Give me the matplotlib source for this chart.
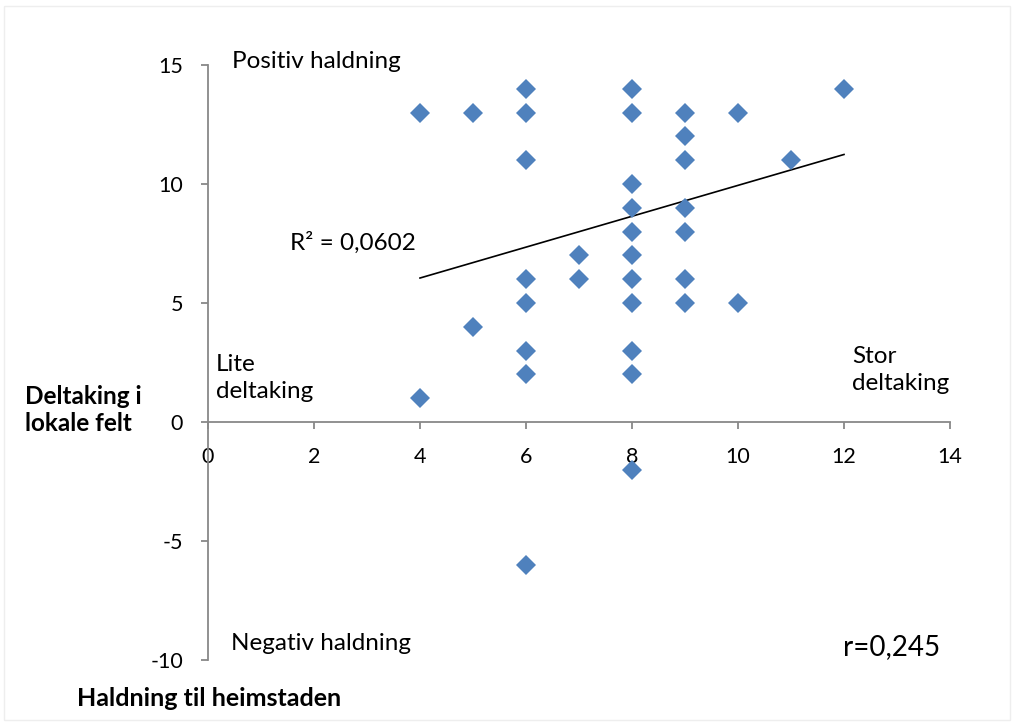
import numpy as np
import matplotlib.pyplot as plt

# Haldning til heimstaden (x) og deltaking i lokale felt (y)
# (dei siste seks punkta ligg oppå andre punkt i diagrammet)
haldning = [4, 5, 6, 6, 8, 8, 9, 10, 12, 9, 6, 9, 11, 8, 8, 9, 8, 9,
            7, 8, 6, 7, 8, 9, 6, 8, 9, 10, 5, 6, 8, 6, 8, 4, 8, 6,
            6, 6, 8, 8, 8, 12]
deltaking = [13, 13, 14, 13, 14, 13, 13, 13, 14, 12, 11, 11, 11, 10, 9, 9, 8, 8,
             7, 7, 6, 6, 6, 6, 5, 5, 5, 5, 4, 3, 3, 2, 2, 1, -2, -6,
             14, 13, 13, 13, 13, 14]

x_ticks = [0, 2, 4, 6, 8, 10, 12, 14]
y_ticks = [-10, -5, 0, 5, 10, 15]

plt.rcParams['font.family'] = ['Lato', 'DejaVu Sans']

W, H = 1014, 722
fig = plt.figure(figsize=(W / 100, H / 100), dpi=100)
ax = fig.add_axes([208 / W, 1 - 660 / H, (950 - 208) / W, (660 - 65) / H])

x = np.array(haldning, dtype=float)
y = np.array(deltaking, dtype=float)
k, m = np.polyfit(x, y, 1)

# punkt som ligg oppå kvarandre blir teikna ein gong
pkt = np.unique(np.column_stack([x, y]), axis=0)
ax.plot(pkt[:, 0], pkt[:, 1], 'D', color='#4F81BD', markersize=10.5,
        markeredgewidth=0, zorder=3)
xl = np.array([x.min(), x.max()])
ax.plot(xl, k * xl + m, color='black', lw=1.2, zorder=2)

ax.set_xlim(0, 14)
ax.set_ylim(-10, 15)
ax.set_xticks(x_ticks)
ax.set_yticks(y_ticks)
ax.set_yticklabels([str(v) for v in y_ticks])

ax.spines['top'].set_visible(False)
ax.spines['right'].set_visible(False)
ax.spines['bottom'].set_position(('data', 0))
for s in ['left', 'bottom']:
    ax.spines[s].set_color('#888888')
    ax.spines[s].set_linewidth(1.3)
ax.tick_params(axis='both', colors='#888888', labelcolor='black', length=5,
               width=1.3, labelsize=15.5)
ax.tick_params(axis='x', pad=13)
ax.tick_params(axis='y', pad=13)

def px(xp, yp):
    return xp / W, 1 - yp / H

fs = 17.5
fig.text(*px(232, 62), 'Positiv haldning', fontsize=fs, va='center')
fig.text(*px(290, 243), 'R² = 0,0602', fontsize=fs, va='center')
fig.text(*px(216, 378), 'Lite\ndeltaking', fontsize=fs, va='center', linespacing=1.4)
fig.text(*px(852, 370), 'Stor\ndeltaking', fontsize=fs, va='center', linespacing=1.4)
fig.text(*px(231, 643), 'Negativ haldning', fontsize=fs, va='center')
fig.text(*px(843, 647), 'r=0,245', fontsize=20, va='center')
fig.text(*px(25, 410), 'Deltaking i\nlokale felt', fontsize=fs, fontweight='bold',
         va='center', linespacing=1.25)
fig.text(*px(77, 698), 'Haldning til heimstaden', fontsize=18, fontweight='bold',
         va='center')

fig.patches.append(plt.Rectangle((4 / W, 2 / H), 1 - 8 / W, 1 - 8 / H,
                                 transform=fig.transFigure, fill=False,
                                 edgecolor='#eeeeee', lw=1))

fig.savefig('out.png', dpi=100)
